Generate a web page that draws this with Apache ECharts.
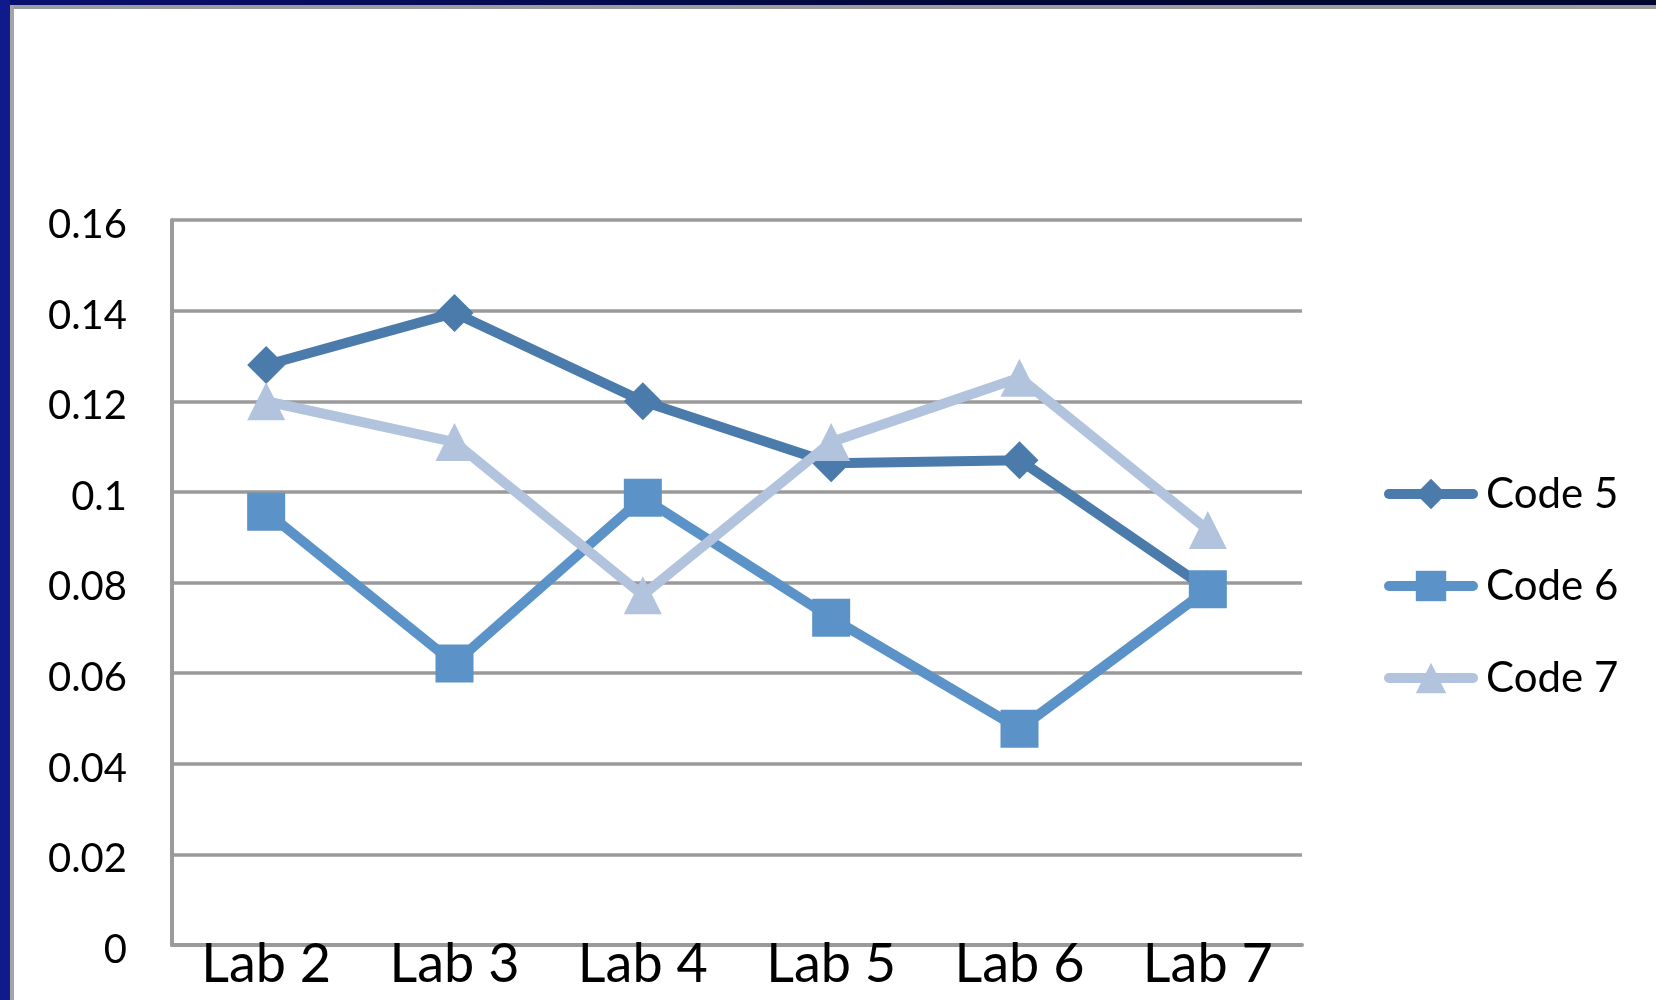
<!DOCTYPE html>
<html>
<head>
<meta charset="utf-8">
<script src="https://cdn.jsdelivr.net/npm/echarts@6/dist/echarts.min.js"></script>
<style>
  html, body { margin: 0; padding: 0; background: #ffffff; }
  #wrap { position: relative; width: 1656px; height: 1000px; overflow: hidden; }
  #chart { position: absolute; left: 0; top: 0; width: 1656px; height: 1000px; }
  /* slide frame: navy bands along the top and left edges with a thin grey inner rule */
  .band-top { position: absolute; left: 0; top: 0; width: 1656px; height: 5px; background: linear-gradient(90deg, #0a1070, #000838 60%, #000530); }
  .rule-top { position: absolute; left: 10px; top: 5px; width: 1646px; height: 4px; background: #9c9c9c; }
  .band-left { position: absolute; left: 0; top: 0; width: 10px; height: 1000px; background: #111a8c; }
  .rule-left { position: absolute; left: 10px; top: 5px; width: 4px; height: 995px; background: #a4a4a4; }
</style>
</head>
<body>
<div id="wrap">
  <div id="chart"></div>
  <div class="band-top"></div>
  <div class="rule-top"></div>
  <div class="band-left"></div>
  <div class="rule-left"></div>
</div>
<script>
// Categories and series values
const labs = ['Lab 2', 'Lab 3', 'Lab 4', 'Lab 5', 'Lab 6', 'Lab 7'];
const code5 = [0.128, 0.1395, 0.120, 0.1063, 0.107, 0.0785];
const code6 = [0.0956, 0.0621, 0.0987, 0.0722, 0.0477, 0.0785];
const code7 = [0.120, 0.111, 0.0772, 0.111, 0.1252, 0.0916];
const seriesNames = ['Code 5', 'Code 6', 'Code 7'];
const yTickLabels = ['0', '0.02', '0.04', '0.06', '0.08', '0.1', '0.12', '0.14', '0.16'];

const colors = ['#4a7bab', '#5b93c8', '#b1c3dd'];
const symbols = ['diamond', 'rect', 'triangle'];
const values = [code5, code6, code7];

const chart = echarts.init(document.getElementById('chart'), null, { renderer: 'canvas' });

const gridColor = '#9a9a9a';
const font = 'Lato, "Open Sans", sans-serif';

chart.setOption({
  backgroundColor: '#ffffff',
  animation: false,
  textStyle: { fontFamily: font },
  grid: { left: 172, right: 354, top: 220, bottom: 55, containLabel: false },
  xAxis: {
    type: 'category',
    data: labs,
    boundaryGap: true,
    axisLine: { show: true, lineStyle: { color: gridColor, width: 4 } },
    axisTick: { show: false },
    axisLabel: { color: '#000', fontSize: 54, fontFamily: font, margin: -7 }
  },
  yAxis: {
    type: 'value',
    min: 0,
    max: 0.16,
    interval: 0.02,
    axisLine: { show: true, lineStyle: { color: gridColor, width: 4 } },
    axisTick: { show: false },
    splitLine: { show: true, lineStyle: { color: gridColor, width: 3.5 } },
    axisLabel: {
      color: '#000',
      fontSize: 40,
      fontFamily: font,
      margin: 45,
      verticalAlign: 'top',
      lineHeight: 10,
      formatter: (v, i) => yTickLabels[i]
    }
  },
  legend: {
    orient: 'vertical',
    left: 1379,
    top: 468,
    itemWidth: 84,
    itemHeight: 38,
    itemGap: 50,
    data: seriesNames,
    lineStyle: { width: 10, cap: 'round' },
    textStyle: { color: '#000', fontSize: 42, fontFamily: font, lineHeight: 38, padding: [0, 0, 0, 8] }
  },
  series: seriesNames.map((name, i) => ({
    name: name,
    type: 'line',
    data: values[i],
    symbol: symbols[i],
    symbolSize: 38,
    showAllSymbol: true,
    lineStyle: { color: colors[i], width: 10 },
    itemStyle: { color: colors[i], borderWidth: 0 },
    z: 2 + i
  }))
});
</script>
</body>
</html>
